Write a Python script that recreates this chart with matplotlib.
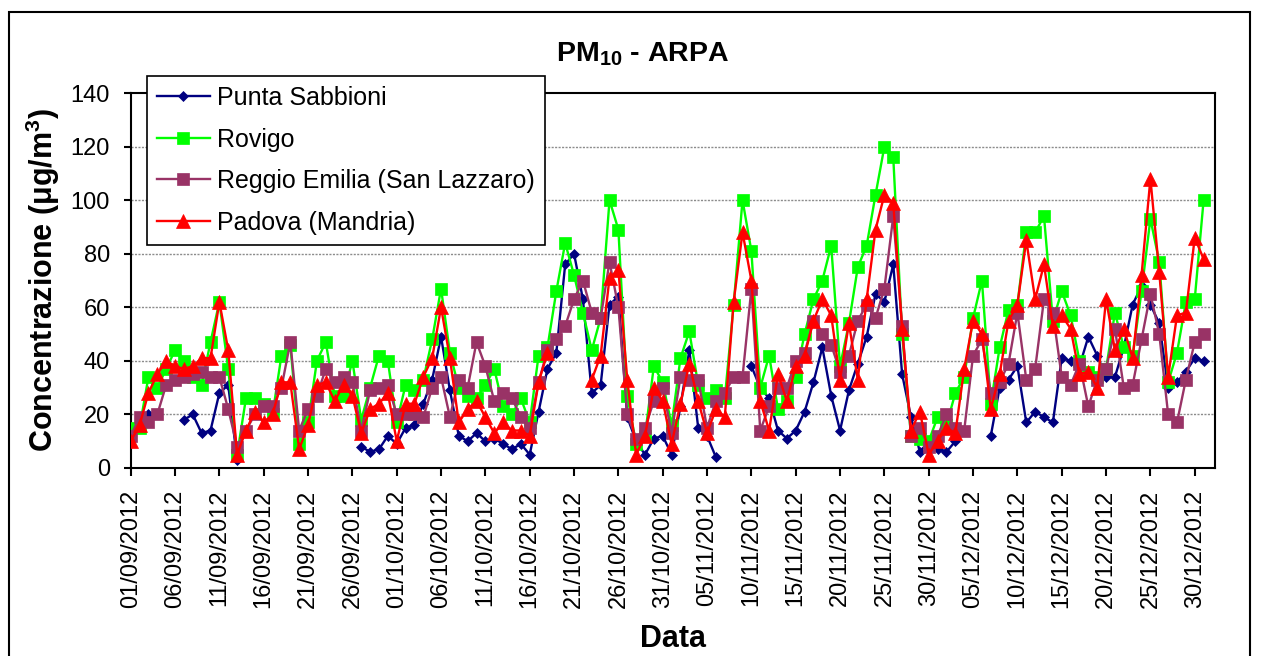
import numpy as np
import pandas as pd
import matplotlib
matplotlib.use('Agg')
import matplotlib.pyplot as plt
from matplotlib.patches import Rectangle

plt.rcParams['font.family'] = ['Liberation Sans', 'DejaVu Sans']
plt.rcParams['mathtext.fontset'] = 'custom'
plt.rcParams['mathtext.rm'] = 'Liberation Sans'
plt.rcParams['mathtext.bf'] = 'Liberation Sans:bold'
plt.rcParams['mathtext.it'] = 'Liberation Sans:italic'

N = None
dates = pd.date_range('2012-09-01', '2012-12-31', freq='D')

punta_sabbioni = [12, 17, 20, N, N, N, 18, 20, 13, 14, 28, 31, 3,
                  N, N, N, N, N, N, N, N, N, N, N, N, N,
                  8, 6, 7, 12, 9, 15, 16, 24, 33, 49, 29, 12, 10, 13, 10, 11, 9, 7, 9, 5,
                  21, 37, 43, 76, 80, 63, 28, 31, 61, 64, 19, 10, 5, 11, 12, 5, 23, 44, 15, 12, 4,
                  N, N, N,
                  38, 30, 26, 14, 11, 14, 21, 32, 45, 27, 14, 29, 39, 49, 65, 62, 76, 35, 19, 6, 10, 7, 6, 10, 14,
                  N, N,
                  12, 30, 33, 38, 17, 21, 19, 17, 41, 40, 38, 49, 42, 34, 34, 45, 61, 68, 61, 54, 30, 32, 36, 41, 40]

rovigo = [15, 15, 34, 30, 37, 44, 40, 34, 31, 47,
          62, 37, 5, 26, 26, 24, 20, 42, 46, 9,
          17, 40, 47, 27, 27, 40, 18, 30, 42, 40,
          17, 31, 29, 33, 48, 67, 43, 30, 27, 26,
          31, 37, 23, 20, 26, 17, 42, 45, 66, 84,
          72, 58, 44, 56, 100, 89, 27, 9, 12, 38,
          32, 16, 41, 51, 31, 26, 29, 26, 61, 100,
          81, 30, 42, 22, 25, 34, 50, 63, 70, 83,
          38, 54, 75, 83, 102, 120, 116, 50, 12, 11,
          10, 19, 16, 28, 34, 56, 70, 24, 45, 59,
          61, 88, 88, 94, 55, 66, 57, 40, 36, 34,
          37, 58, 45, 42, 66, 93, 77, 32, 43, 62,
          63, 100]

reggio_emilia = [12, 19, 17, 20, 31, 33, 34, 35, 36, 34,
                 34, 22, 8, 14, 20, 23, 23, 30, 47, 14,
                 22, 27, 37, 32, 34, 32, 14, 29, 30, 31,
                 20, 20, 20, 19, 30, 34, 19, 33, 30, 47,
                 38, 25, 28, 26, 19, 15, 32, 44, 48, 53,
                 63, 70, 58, 56, 77, 60, 20, 11, 15, 25,
                 30, 13, 34, 33, 33, 15, 25, 28, 34, 34,
                 67, 14, 23, 30, 30, 40, 43, 55, 50, 46,
                 36, 42, 55, 61, 56, 67, 94, 53, 12, 15,
                 8, 12, 20, 15, 14, 42, 48, 28, 32, 39,
                 58, 33, 37, 63, 58, 34, 31, 39, 23, 33,
                 37, 52, 30, 31, 48, 65, 50, 20, 17, 33,
                 47, 50]

padova = [10, 16, 28, 35, 40, 38, 37, 38, 41, 41,
          62, 44, 5, 14, 21, 17, 20, 32, 32, 7,
          16, 31, 32, 25, 31, 27, 13, 22, 24, 28,
          10, 24, 24, 34, 41, 60, 41, 17, 22, 25,
          19, 13, 17, 14, 14, 12, 32, 43, N, N,
          N, N, 33, 42, 71, 74, 33, 5, 12, 30,
          25, 9, 24, 39, 25, 13, 22, 19, 62, 88,
          70, 25, 14, 35, 25, 38, 42, 55, 63, 57,
          33, 54, 33, 63, 89, 102, 99, 52, 14, 21,
          5, 10, 15, 13, 37, 55, 50, 22, 35, 55,
          61, 85, 63, 76, 53, 57, 52, 35, 36, 30,
          63, 44, 52, 41, 72, 108, 73, 34, 57, 58,
          86, 78]

series_names = ['Punta Sabbioni', 'Rovigo', 'Reggio Emilia (San Lazzaro)', 'Padova (Mandria)']
series_values = [punta_sabbioni, rovigo, reggio_emilia, padova]
colors = ['#000080', '#00FF00', '#993366', '#FF0000']
markers = ['D', 's', 's', '^']
msizes = [5.5, 8, 8.5, 9.5]

tick_idx = list(range(0, 121, 5))
tick_labels = [dates[i].strftime('%d/%m/%Y') for i in tick_idx]
y_ticks = [0, 20, 40, 60, 80, 100, 120, 140]

W, H = 1261, 656
fig = plt.figure(figsize=(W / 100, H / 100), dpi=100)
x0, x1, y0, y1 = 130.7, 1215, 93, 468
ax = fig.add_axes([x0 / W, 1 - y1 / H, (x1 - x0) / W, (y1 - y0) / H])

x = np.arange(len(dates))
for name, vals, c, m, ms in zip(series_names, series_values, colors, markers, msizes):
    v = np.array([np.nan if a is None else a for a in vals], dtype=float)
    ax.plot(x, v, color=c, lw=1.7, marker=m, ms=ms, mfc=c, mec=c, mew=0.5, label=name, zorder=3)

ax.set_xlim(0, (x1 - x0) / 8.867)
ax.set_ylim(0, 140)
ax.set_yticks(y_ticks)
ax.set_xticks(tick_idx)
ax.set_xticklabels(tick_labels, rotation=90, fontsize=17)
ax.tick_params(axis='y', labelsize=17, direction='out', length=5, width=1.5, pad=10)
ax.tick_params(axis='x', direction='out', length=5.5, width=1.5, pad=10)
ax.tick_params(top=False, right=False)
for y in y_ticks[1:-1]:
    ax.axhline(y, color='#8c8c8c', lw=1.0, ls=(0, (1.5, 1)), zorder=1)
for s in ax.spines.values():
    s.set_linewidth(1.5)
    s.set_color('black')

leg = ax.legend(loc='upper left', bbox_to_anchor=(146.7 / W, 1 - 75.7 / H),
                bbox_transform=fig.transFigure, borderaxespad=0, fontsize=18,
                frameon=True, fancybox=False, framealpha=1, edgecolor='black',
                handlelength=2.1, handletextpad=0.3, labelspacing=0.7, borderpad=0.42)
leg.get_frame().set_linewidth(1.2)
leg.set_zorder(10)

fig.text(643 / W, 1 - 62 / H, r'PM$_{\mathbf{10}}$ - ARPA', ha='center', va='baseline',
         fontsize=20.5, fontweight='bold')
fig.text(43 / W, 1 - 280 / H, r'Concentrazione (μg/m$^{\mathbf{3}}$)', rotation=90,
         ha='center', va='center', fontsize=22, fontweight='bold')
fig.text(672.5 / W, 1 - 647 / H, 'Data', ha='center', va='baseline', fontsize=22, fontweight='bold')

fig.patches.append(Rectangle((9 / W, -0.05), (1250 - 9) / W, 1 - 12 / H + 0.05,
                             transform=fig.transFigure, fill=False, lw=1.5,
                             ec='black', clip_on=False))

fig.savefig('out.png', dpi=100)
